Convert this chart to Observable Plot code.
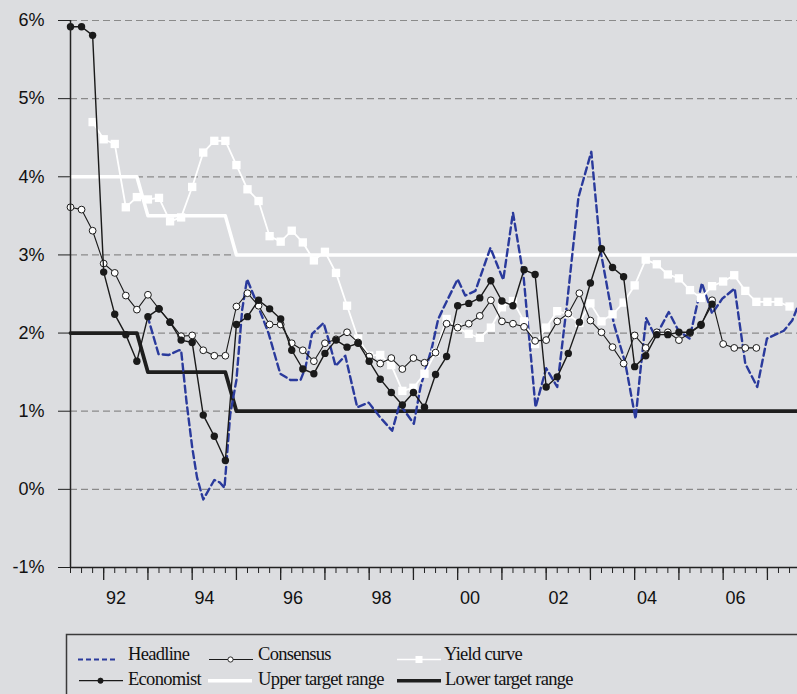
<!DOCTYPE html>
<html><head><meta charset="utf-8">
<script src="https://cdn.jsdelivr.net/npm/d3@7"></script>
<script src="https://cdn.jsdelivr.net/npm/@observablehq/plot@0.6"></script>
<style>
html,body{margin:0;padding:0;background:#dcdde0;}
#wrap{position:relative;width:797px;height:694px;overflow:hidden;background:#dcdde0;}
#chart{position:absolute;left:0;top:0;}
#legend{position:absolute;left:0;top:620px;}
</style></head>
<body><div id="wrap"><div id="chart"></div><svg id="legend" width="797" height="74"></svg></div>
<script>
// ---- data (quarterly series start 1991 Q2) ----
const startYear = 1991.25;
const economist = [5.92,5.92,5.81,2.78,2.24,1.98,1.64,2.21,2.31,2.14,1.91,1.88,0.95,0.68,0.37,2.11,2.21,2.42,2.31,2.18,1.78,1.54,1.48,1.74,1.91,1.82,1.87,1.64,1.41,1.24,1.08,1.24,1.05,1.47,1.70,2.35,2.38,2.45,2.67,2.41,2.35,2.81,2.75,1.31,1.44,1.74,2.14,2.64,3.08,2.84,2.72,1.57,1.71,1.98,1.98,2.01,2.01,2.11,2.37];
const consensus = [3.61,3.58,3.31,2.89,2.77,2.48,2.30,2.49,2.31,2.14,1.96,1.97,1.78,1.71,1.71,2.34,2.51,2.35,2.11,2.11,1.87,1.78,1.64,1.87,1.92,2.01,1.88,1.70,1.61,1.68,1.54,1.68,1.62,1.75,2.12,2.07,2.12,2.22,2.42,2.15,2.12,2.08,1.90,1.91,2.15,2.25,2.51,2.16,2.01,1.82,1.61,1.97,1.81,2.01,2.01,1.91,2.00,2.10,2.42,1.86,1.81,1.81,1.81];
const yieldCurve = [null,null,4.70,4.48,4.42,3.61,3.74,3.71,3.73,3.43,3.48,3.87,4.31,4.46,4.46,4.15,3.84,3.69,3.24,3.17,3.31,3.16,2.93,3.04,2.77,2.35,1.93,1.71,1.72,1.59,1.26,1.30,1.48,1.75,2.18,2.07,1.99,1.94,2.07,2.33,2.41,2.15,1.86,2.07,2.28,2.24,2.13,2.38,2.15,2.24,2.39,2.61,2.94,2.88,2.75,2.70,2.55,2.45,2.60,2.66,2.74,2.54,2.40,2.40,2.40,2.34];
const headlineYears = [1992.99,1993.24,1993.47,1993.70,1993.75,1993.87,1994.00,1994.11,1994.25,1994.50,1994.62,1994.73,1994.86,1995.00,1995.13,1995.24,1995.50,1995.73,1995.99,1996.22,1996.45,1996.56,1996.71,1996.97,1997.09,1997.24,1997.46,1997.73,1997.99,1998.25,1998.52,1998.69,1999.01,1999.16,1999.42,1999.56,1999.72,2000.00,2000.17,2000.40,2000.74,2001.03,2001.25,2001.49,2001.76,2002.00,2002.25,2002.47,2002.73,2003.02,2003.23,2003.53,2003.79,2004.02,2004.13,2004.26,2004.47,2004.77,2004.99,2005.24,2005.52,2005.75,2005.98,2006.26,2006.50,2006.77,2006.99,2007.37,2007.56,2007.68];
const headlineValues = [2.22,1.73,1.72,1.78,1.78,1.13,0.54,0.15,-0.13,0.12,0.09,0.02,0.96,1.40,2.30,2.69,2.33,1.99,1.48,1.40,1.40,1.56,1.99,2.13,1.90,1.58,1.71,1.05,1.11,0.92,0.75,1.09,0.84,1.31,1.82,2.18,2.37,2.69,2.48,2.54,3.09,2.68,3.54,2.72,1.05,1.55,1.31,2.37,3.74,4.32,3.05,2.12,1.61,0.90,1.52,2.19,1.95,2.27,2.03,1.93,2.64,2.25,2.44,2.57,1.61,1.31,1.93,2.03,2.16,2.33];
const targetYears = [1991.25,1992.75,1993.0,1994.75,1995.0,2007.68];
const upperTarget = [4,4,3.5,3.5,3,3];
const lowerTarget = [2,2,1.5,1.5,1,1];
const yTicks = [-1,0,1,2,3,4,5,6];
const gridVals = [0,1,2,3,4,5,6];
const yearLabels = ["92","94","96","98","00","02","04","06"];
const labelYears = [1992,1994,1996,1998,2000,2002,2004,2006];
const xEnd = 2007.68;

// ---- build tables ----
const q = i => startYear + i*0.25;
const toPts = arr => arr.map((v,i)=>({x:q(i), y:v})).filter(d=>d.y!=null);
const econPts = toPts(economist), consPts = toPts(consensus), ycPts = toPts(yieldCurve);
const headPts = headlineYears.map((x,i)=>({x, y:headlineValues[i]}));
const upPts = targetYears.map((x,i)=>({x, y:upperTarget[i]}));
const loPts = targetYears.map((x,i)=>({x, y:lowerTarget[i]}));
const quarterTicks = d3.range(0, 66).map(q);
const yearTicks = d3.range(1992, 2008);
const labelPos = labelYears.map(y => y + 0.28);
const labelMap = new Map(labelPos.map((p,i)=>[p, yearLabels[i]]));

const chart = Plot.plot({
  width: 797, height: 620,
  marginLeft: 70, marginRight: 0, marginTop: 20, marginBottom: 53,
  x: {domain: [startYear, xEnd], label: null},
  y: {domain: [-1, 6], label: null},
  style: {background: "transparent", fontFamily: "'Liberation Sans', Arial, sans-serif", color: "#111"},
  marks: [
    Plot.ruleY(gridVals, {stroke: "#8a8a8a", strokeDasharray: "7,4", strokeWidth: 1.2}),
    Plot.line(upPts, {x: "x", y: "y", stroke: "white", strokeWidth: 3.5}),
    Plot.line(loPts, {x: "x", y: "y", stroke: "#1e1e1e", strokeWidth: 3.8}),
    Plot.line(headPts, {x: "x", y: "y", stroke: "#2a3a9c", strokeWidth: 2.4, strokeDasharray: "7,4"}),
    Plot.line(ycPts, {x: "x", y: "y", stroke: "white", strokeWidth: 1.8}),
    Plot.dot(ycPts, {x: "x", y: "y", symbol: "square", r: 4.7, fill: "white"}),
    Plot.line(consPts, {x: "x", y: "y", stroke: "#1a1a1a", strokeWidth: 1.1}),
    Plot.dot(consPts, {x: "x", y: "y", r: 3.4, fill: "white", stroke: "#1a1a1a", strokeWidth: 1}),
    Plot.line(econPts, {x: "x", y: "y", stroke: "#1a1a1a", strokeWidth: 1.4}),
    Plot.dot(econPts, {x: "x", y: "y", r: 3.7, fill: "#1a1a1a"}),
    Plot.ruleX([startYear], {stroke: "#222", strokeWidth: 1.5}),
    Plot.ruleY([-1], {stroke: "#222", strokeWidth: 1.5}),
    Plot.axisY({ticks: yTicks, tickSize: 12, tickPadding: 14, tickFormat: d => d + "%", fontSize: 18, stroke: "#222", label: null}),
    Plot.axisX({ticks: quarterTicks, tickSize: 6, tickFormat: () => "", stroke: "#222", label: null}),
    Plot.axisX({ticks: yearTicks, tickSize: 13, tickFormat: () => "", stroke: "#222", strokeWidth: 1.3, label: null}),
    Plot.axisX({ticks: labelPos, tickSize: 0, tickPadding: 24, tickFormat: d => labelMap.get(d), fontSize: 18, label: null})
  ]
});
document.getElementById("chart").appendChild(chart);

// ---- legend ----
const lg = d3.select("#legend");
lg.append("rect").attr("x", 66.5).attr("y", 14.5).attr("width", 800).attr("height", 100)
  .attr("fill", "none").attr("stroke", "#3a3a3a").attr("stroke-width", 1.5);
const items = [
  {label: "Headline", sx: 78, tx: 128, row: 0, type: "dash"},
  {label: "Consensus", sx: 209, tx: 258, row: 0, type: "open"},
  {label: "Yield curve", sx: 397, tx: 444, row: 0, type: "square"},
  {label: "Economist", sx: 79, tx: 128, row: 1, type: "filled"},
  {label: "Upper target range", sx: 208, tx: 258, row: 1, type: "white"},
  {label: "Lower target range", sx: 397, tx: 445, row: 1, type: "black"}
];
items.forEach(it => {
  const by = it.row === 0 ? 39.5 : 65;
  const ly = it.row === 0 ? 39.5 : 60.7;
  const x2 = it.sx + 44;
  const g = lg.append("g");
  if (it.type === "dash") g.append("line").attr("x1", it.sx).attr("x2", x2 - 4).attr("y1", ly).attr("y2", ly).attr("stroke", "#2a3a9c").attr("stroke-width", 2).attr("stroke-dasharray", "5,3");
  if (it.type === "open" || it.type === "filled") {
    g.append("line").attr("x1", it.sx).attr("x2", x2).attr("y1", ly).attr("y2", ly).attr("stroke", "#1a1a1a").attr("stroke-width", 1.2);
    g.append("circle").attr("cx", it.sx + 21.5).attr("cy", ly).attr("r", 2.6).attr("fill", it.type === "open" ? "white" : "#1a1a1a").attr("stroke", "#1a1a1a").attr("stroke-width", 0.9);
  }
  if (it.type === "square") {
    g.append("line").attr("x1", it.sx).attr("x2", x2).attr("y1", ly).attr("y2", ly).attr("stroke", "white").attr("stroke-width", 1.5);
    g.append("rect").attr("x", it.sx + 18.5).attr("y", ly - 3.5).attr("width", 7).attr("height", 7).attr("fill", "white");
  }
  if (it.type === "white") g.append("line").attr("x1", it.sx).attr("x2", x2).attr("y1", ly).attr("y2", ly).attr("stroke", "white").attr("stroke-width", 3.5);
  if (it.type === "black") g.append("line").attr("x1", it.sx).attr("x2", x2).attr("y1", ly).attr("y2", ly).attr("stroke", "#1e1e1e").attr("stroke-width", 3.5);
  g.append("text").attr("x", it.tx).attr("y", by).text(it.label)
    .attr("font-family", "'Liberation Serif', 'Times New Roman', serif").attr("font-size", 18.5)
    .attr("letter-spacing", "-0.7px").attr("fill", "#111");
});
</script>
</body></html>
